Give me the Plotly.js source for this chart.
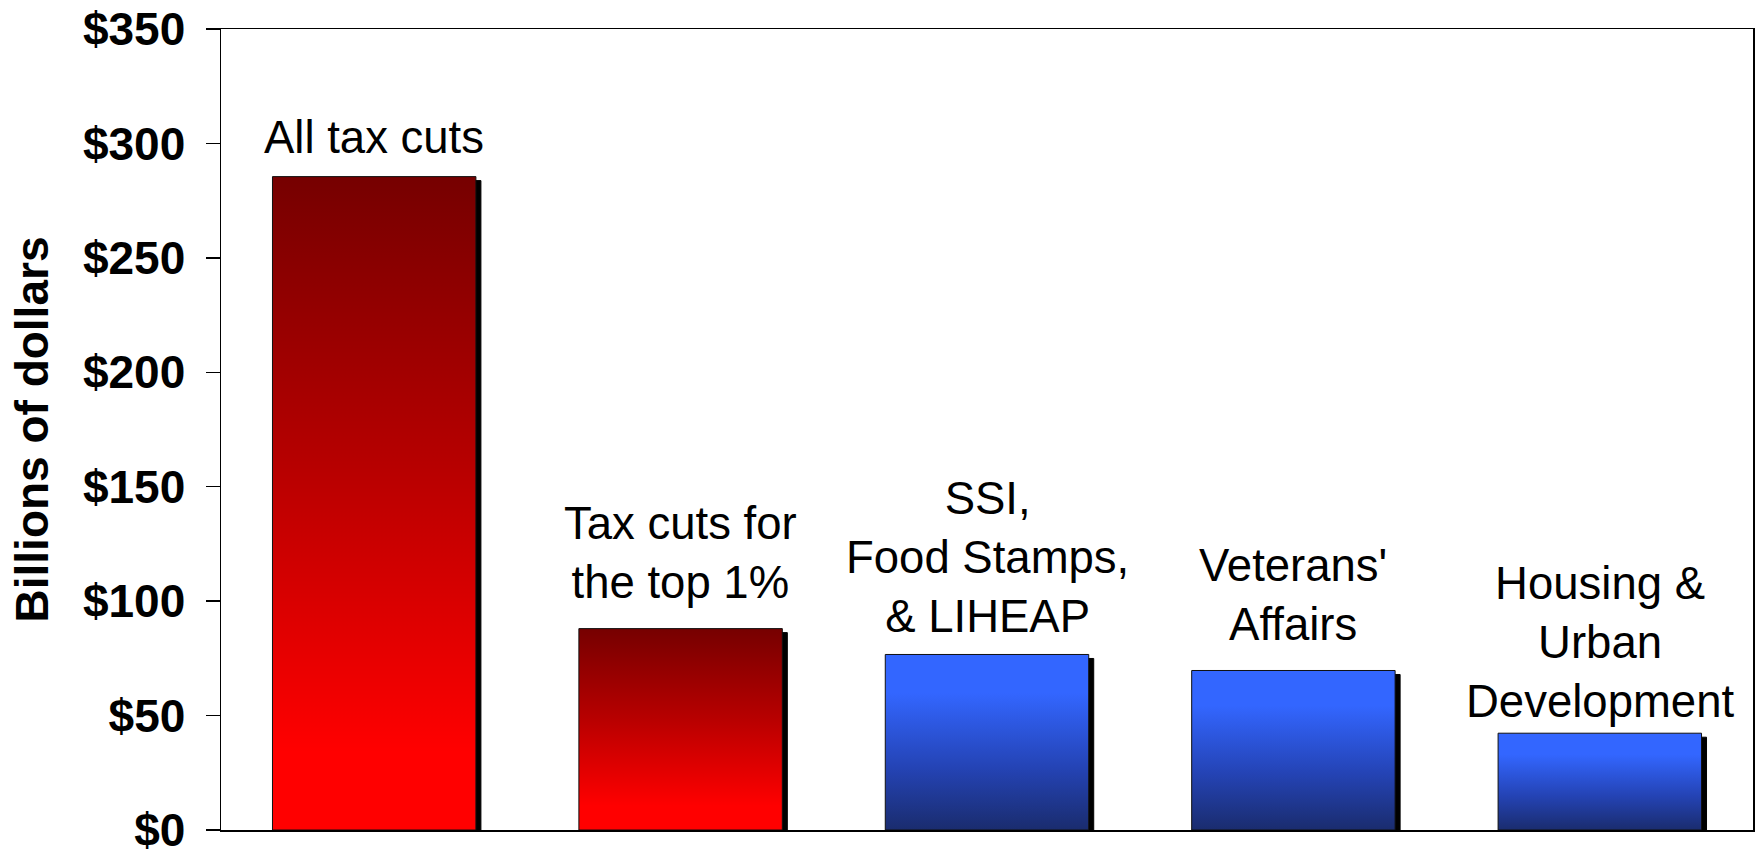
<!DOCTYPE html>
<html>
<head>
<meta charset="utf-8">
<script src="https://cdn.plot.ly/plotly-3.0.1.min.js"></script>
<style>
  html, body { margin: 0; padding: 0; background: #fff; }
  #chart { width: 1761px; height: 852px; }
</style>
</head>
<body>
<div id="chart"></div>
<script>
// ---- data ----
const taxCategories = ["All tax cuts", "Tax cuts for<br>the top 1%"];
const taxValues = [285.5, 88];
const programCategories = ["SSI,<br>Food Stamps,<br>& LIHEAP", "Veterans'<br>Affairs", "Housing &<br>Urban<br>Development"];
const programValues = [76.7, 69.7, 42.3];
const yTickValues = [0, 50, 100, 150, 200, 250, 300, 350];
const yTickLabels = ["$0", "$50", "$100", "$150", "$200", "$250", "$300", "$350"];
const yAxisTitle = "Billions of dollars";

const allCategories = taxCategories.concat(programCategories);
const allValues = taxValues.concat(programValues);

// label placement tweaks (pixels above the bar top), style only
const labelLift = [12, 19, 10, 18, 4];

const FONT = "Liberation Sans, Arial, sans-serif";

const traces = [
  {
    type: "bar",
    x: taxCategories,
    y: taxValues,
    marker: { color: "#b00000", line: { color: "#111", width: 1 } },
    hoverinfo: "skip",
    name: "tax"
  },
  {
    type: "bar",
    x: programCategories,
    y: programValues,
    marker: { color: "#2a4ad0", line: { color: "#111", width: 1 } },
    hoverinfo: "skip",
    name: "programs"
  }
];

const annotations = allCategories.map((c, i) => ({
  x: c,
  y: allValues[i],
  xref: "x",
  yref: "y",
  text: c,
  showarrow: false,
  yanchor: "bottom",
  xanchor: "center",
  align: "center",
  yshift: labelLift[i],
  font: { family: FONT, size: 45.5, color: "#000" }
}));

const layout = {
  width: 1761,
  height: 852,
  margin: { l: 221, r: 8, t: 29, b: 22, pad: 0 },
  paper_bgcolor: "#fff",
  plot_bgcolor: "#fff",
  showlegend: false,
  barmode: "overlay",
  bargap: 0.336,
  xaxis: {
    type: "category",
    categoryorder: "array",
    categoryarray: allCategories,
    showticklabels: false,
    ticks: "",
    showgrid: false,
    zeroline: false,
    showline: true,
    linecolor: "#000",
    linewidth: 1.5,
    mirror: true,
    fixedrange: true
  },
  yaxis: {
    range: [0, 350],
    tickvals: yTickValues,
    ticktext: yTickLabels,
    ticks: "outside",
    ticklen: 14,
    tickwidth: 1.5,
    tickcolor: "#000",
    ticklabelstandoff: 11,
    ticklabeloverflow: "allow",
    showgrid: false,
    zeroline: false,
    showline: true,
    linecolor: "#000",
    linewidth: 1.5,
    mirror: true,
    tickfont: { family: FONT, size: 46, color: "#000", weight: "bold" },
    title: {
      text: yAxisTitle,
      font: { family: FONT, size: 46, color: "#000", weight: "bold" },
      standoff: 20
    },
    fixedrange: true
  },
  annotations: annotations
};

function applyStyles() {
  const gd = document.getElementById("chart");
  const svg = gd.querySelector(".main-svg");
  if (!svg) return;
  const NS = "http://www.w3.org/2000/svg";
  let defs = svg.querySelector("defs");
  if (!defs) { defs = document.createElementNS(NS, "defs"); svg.insertBefore(defs, svg.firstChild); }
  function makeGrad(id, stops) {
    if (defs.querySelector("#" + id)) return;
    const g = document.createElementNS(NS, "linearGradient");
    g.setAttribute("id", id);
    g.setAttribute("x1", "0"); g.setAttribute("y1", "0");
    g.setAttribute("x2", "0"); g.setAttribute("y2", "1");
    stops.forEach(s => {
      const st = document.createElementNS(NS, "stop");
      st.setAttribute("offset", s[0]);
      st.setAttribute("stop-color", s[1]);
      g.appendChild(st);
    });
    defs.appendChild(g);
  }
  makeGrad("gradRed", [["0", "#760000"], ["0.45", "#b80000"], ["0.88", "#ff0000"], ["1", "#ff0000"]]);
  makeGrad("gradBlue", [["0", "#3366ff"], ["0.22", "#3366ff"], ["0.65", "#2443b4"], ["1", "#1a2c6e"]]);
  const traceGroups = gd.querySelectorAll(".barlayer .trace.bars");
  traceGroups.forEach((tg, ti) => {
    tg.querySelectorAll(".point path").forEach(p => {
      p.style.fill = ti === 0 ? "url(#gradRed)" : "url(#gradBlue)";
      p.style.filter = "drop-shadow(5px 4px 0px #000)";
    });
  });
}

Plotly.newPlot("chart", traces, layout, { staticPlot: true, displayModeBar: false }).then(() => {
  applyStyles();
  document.getElementById("chart").on && document.getElementById("chart").on("plotly_afterplot", applyStyles);
});
</script>
</body>
</html>
